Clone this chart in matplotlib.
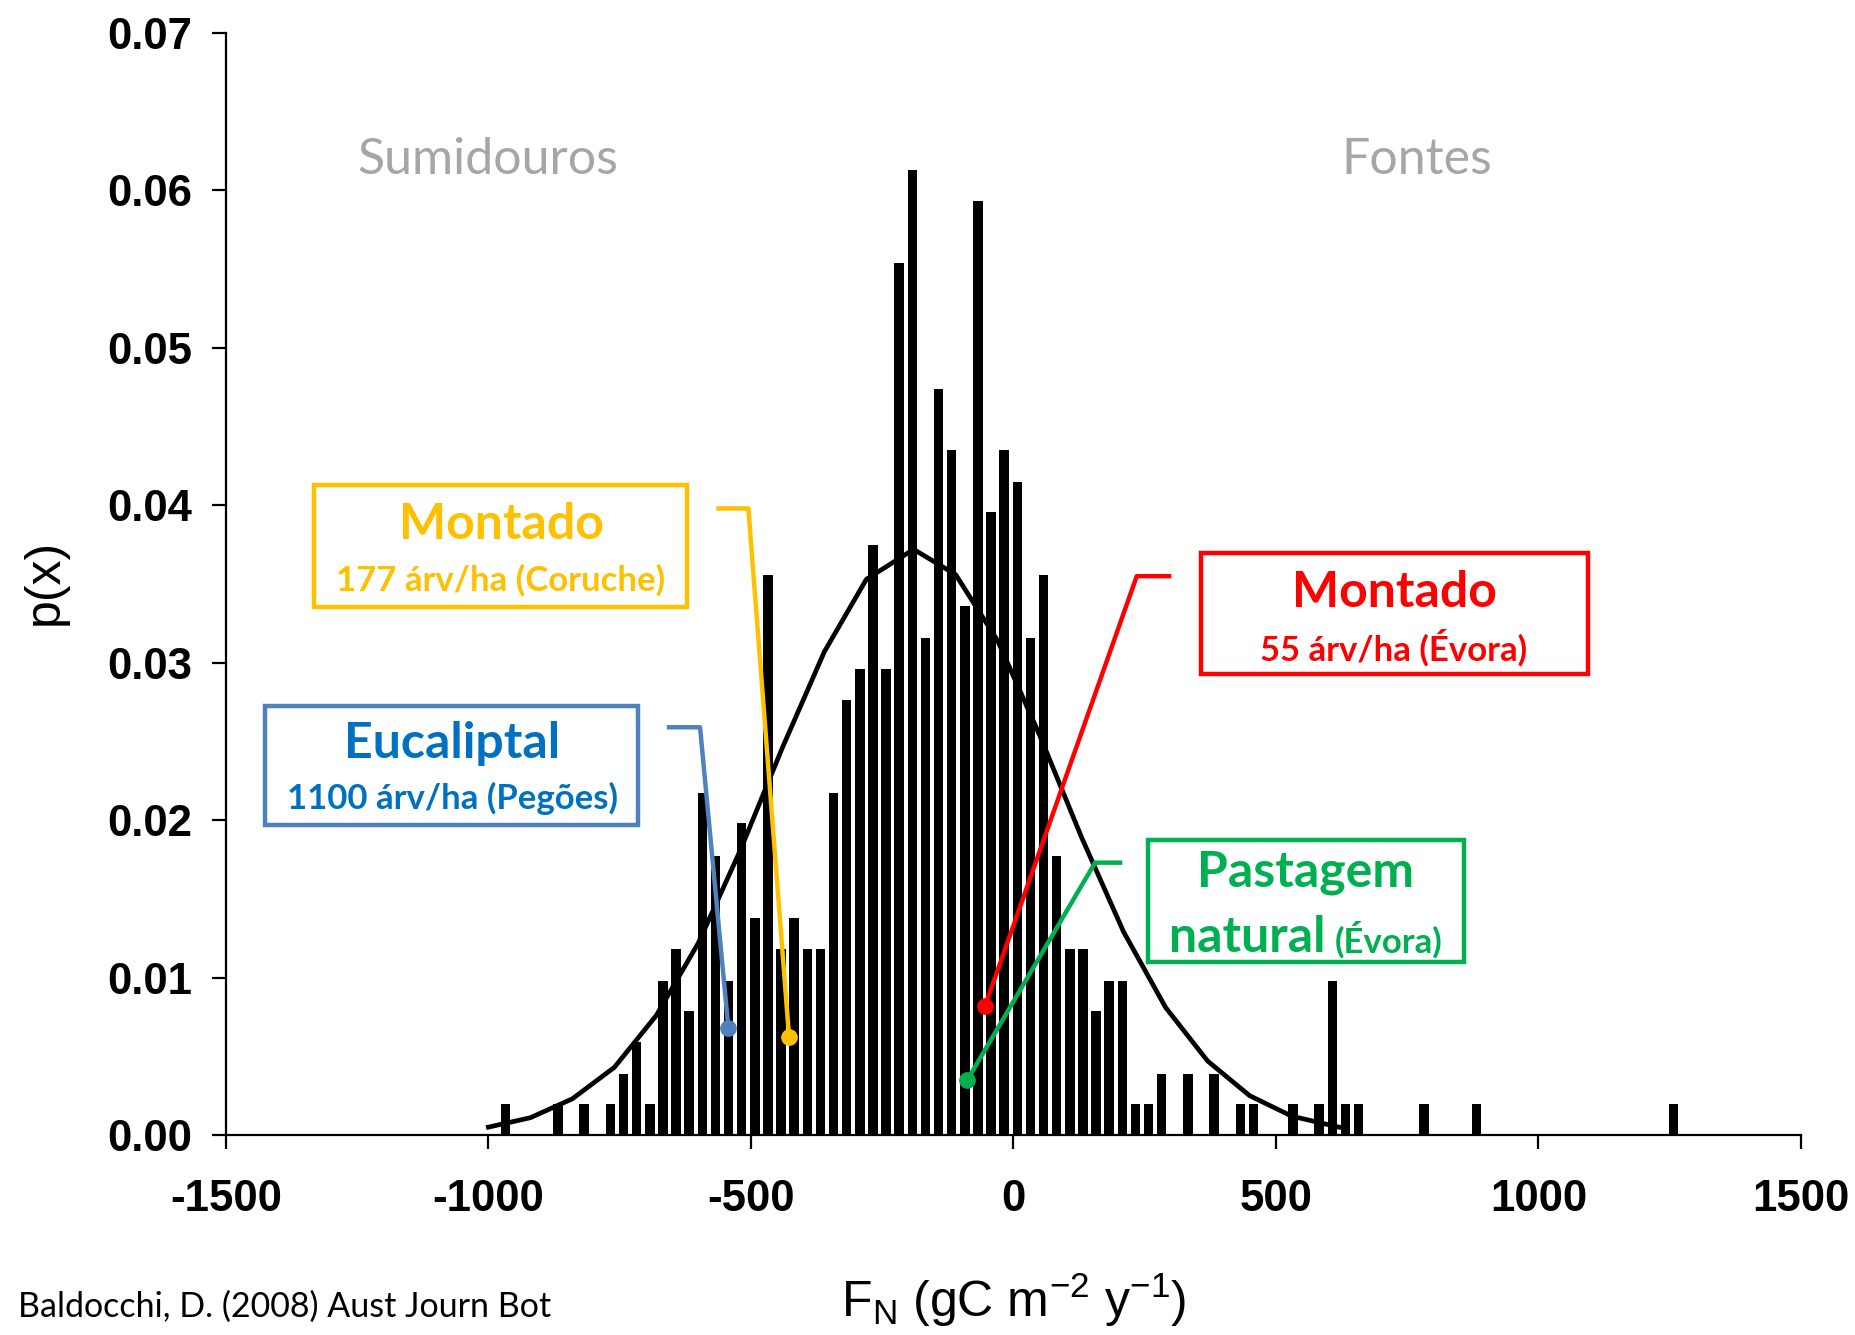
import matplotlib.pyplot as plt
from matplotlib.patches import Rectangle

plt.rcParams['axes.unicode_minus'] = False

# histogram bins (centre of each bar, gC m-2 y-1) and their probabilities
bin_centres = [-967.5, -867.5, -817.5, -767.5, -742.5, -717.5, -692.5, -667.5,
               -642.5, -617.5, -592.5, -567.5, -542.5, -517.5, -492.5, -467.5,
               -442.5, -417.5, -392.5, -367.5, -342.5, -317.5, -292.5, -267.5,
               -242.5, -217.5, -192.5, -167.5, -142.5, -117.5, -92.5, -67.5,
               -42.5, -17.5, 7.5, 32.5, 57.5, 82.5, 107.5, 132.5,
               157.5, 182.5, 207.5, 232.5, 257.5, 282.5, 332.5, 382.5,
               432.5, 457.5, 532.5, 582.5, 607.5, 632.5, 657.5, 782.5,
               882.5, 1257.5]
bin_probs = [0.002, 0.002, 0.002, 0.002, 0.0039, 0.0059, 0.002, 0.0098,
             0.0118, 0.0079, 0.0217, 0.0177, 0.0098, 0.0198, 0.0138, 0.0356,
             0.0118, 0.0138, 0.0118, 0.0118, 0.0217, 0.0276, 0.0296, 0.0375,
             0.0296, 0.0554, 0.0613, 0.0316, 0.0474, 0.0435, 0.0336, 0.0593,
             0.0396, 0.0435, 0.0415, 0.0316, 0.0356, 0.0177, 0.0118, 0.0118,
             0.0079, 0.0098, 0.0098, 0.002, 0.002, 0.0039, 0.0039, 0.0039,
             0.002, 0.002, 0.002, 0.002, 0.0098, 0.002, 0.002, 0.002,
             0.002, 0.002]

# fitted curve
curve_x = [-1000, -920, -840, -760, -680, -600, -520, -440, -360, -280, -190,
           -110, -30, 50, 130, 210, 290, 370, 450, 530, 620]
curve_y = [0.0005, 0.0011, 0.0023, 0.0043, 0.0076, 0.0122, 0.0181, 0.0246,
           0.0307, 0.0353, 0.0372, 0.0356, 0.0314, 0.0254, 0.0189, 0.0129,
           0.0081, 0.0047, 0.0025, 0.0012, 0.0005]

x_ticks = [-1500, -1000, -500, 0, 500, 1000, 1500]
y_ticks = [0.00, 0.01, 0.02, 0.03, 0.04, 0.05, 0.06, 0.07]

fig = plt.figure(figsize=(18.56, 13.35), dpi=100)
ax = fig.add_axes([0.1217, 0.1498, 0.8486, 0.8255])

ax.bar(bin_centres, bin_probs, width=18, color='black', zorder=2)
ax.plot(curve_x, curve_y, color='black', lw=3.4, zorder=3)

ax.set_xlim(-1500, 1500)
ax.set_ylim(0, 0.07)
ax.set_xticks(x_ticks)
ax.set_yticks(y_ticks)
ax.set_xticklabels([str(t) for t in x_ticks])
ax.set_yticklabels(['%.2f' % t for t in y_ticks])
for s in ['top', 'right']:
    ax.spines[s].set_visible(False)
for s in ['left', 'bottom']:
    ax.spines[s].set_linewidth(1.6)
ax.tick_params(axis='both', direction='out', length=10, width=1.6)
ax.tick_params(axis='x', pad=22)
ax.tick_params(axis='y', pad=14)
for lab in ax.get_xticklabels() + ax.get_yticklabels():
    lab.set_fontfamily('Liberation Sans')
    lab.set_fontweight('bold')
    lab.set_fontsize(31.5)

fig.text(0.0242, 0.564, 'p(x)', rotation=90, ha='center', va='center',
         fontsize=36, family='Liberation Sans')
fig.text(0.5463, 0.026, r'F$_\mathregular{N}$ (gC m$^\mathregular{-2}$ y$^\mathregular{-1}$)',
         ha='center', va='center', fontsize=36, family='Liberation Sans')
fig.text(0.0097, 0.021, 'Baldocchi, D. (2008) Aust Journ Bot', ha='left',
         va='center', fontsize=24.5, family='Lato')

gray = '#A6A6A6'
ax.text(-1001, 0.0619, 'Sumidouros', ha='center', va='center', fontsize=36,
        color=gray, family='Lato')
ax.text(769, 0.0619, 'Fontes', ha='center', va='center', fontsize=36,
        color=gray, family='Lato')

yellow = '#FFC000'
red = '#FF0000'
green = '#00B050'
blue_txt = '#0070C0'
blue_ln = '#4F81BD'
big = 36
small = 25


def box(x0, x1, y0, y1, col):
    ax.add_patch(Rectangle((x0, y0), x1 - x0, y1 - y0, fill=False,
                           edgecolor=col, lw=3.2, clip_on=False, zorder=5))


def leader(xs, ys, col):
    ax.plot(xs, ys, color=col, lw=3.2, zorder=4, clip_on=False)
    ax.plot(xs[-1], ys[-1], 'o', color=col, ms=11, zorder=4)


# Montado - Coruche
box(-1332.6, -622.3, 0.03353, 0.04127, yellow)
ax.text(-976, 0.0388, 'Montado', ha='center', va='center', fontsize=big,
        fontweight='bold', color=yellow, family='Lato')
ax.text(-976, 0.03525, '177 árv/ha (Coruche)', ha='center', va='center',
        fontsize=small, fontweight='bold', color=yellow, family='Lato')
leader([-561.5, -504.8, -427.2], [0.0398, 0.0398, 0.0062], yellow)

# Eucaliptal - Pegoes
box(-1425.3, -714.9, 0.01969, 0.02728, blue_ln)
ax.text(-1069, 0.0249, 'Eucaliptal', ha='center', va='center', fontsize=big,
        fontweight='bold', color=blue_txt, family='Lato')
ax.text(-1069, 0.02141, '1100 árv/ha (Pegões)', ha='center', va='center',
        fontsize=small, fontweight='bold', color=blue_txt, family='Lato')
leader([-655.8, -596.8, -542.9], [0.0259, 0.0259, 0.0068], blue_ln)

# Montado - Evora
box(357.5, 1095.2, 0.02926, 0.03695, red)
ax.text(725, 0.03443, 'Montado', ha='center', va='center', fontsize=big,
        fontweight='bold', color=red, family='Lato')
ax.text(725, 0.03097, '55 árv/ha (Évora)', ha='center', va='center',
        fontsize=small, fontweight='bold', color=red, family='Lato')
leader([296.6, 235, -53.9], [0.0355, 0.0355, 0.0082], red)

# Pastagem natural - Evora
box(256, 859, 0.01101, 0.01874, green)
ax.text(557, 0.01668, 'Pastagem', ha='center', va='center', fontsize=big,
        fontweight='bold', color=green, family='Lato')
ax.text(595, 0.0116, 'natural', ha='right', va='baseline', fontsize=big,
        fontweight='bold', color=green, family='Lato')
ax.text(612, 0.0116, '(Évora)', ha='left', va='baseline', fontsize=small,
        fontweight='bold', color=green, family='Lato')
leader([203.2, 155.6, -87.6], [0.0173, 0.0173, 0.0035], green)

fig.savefig('out.png', dpi=100)
